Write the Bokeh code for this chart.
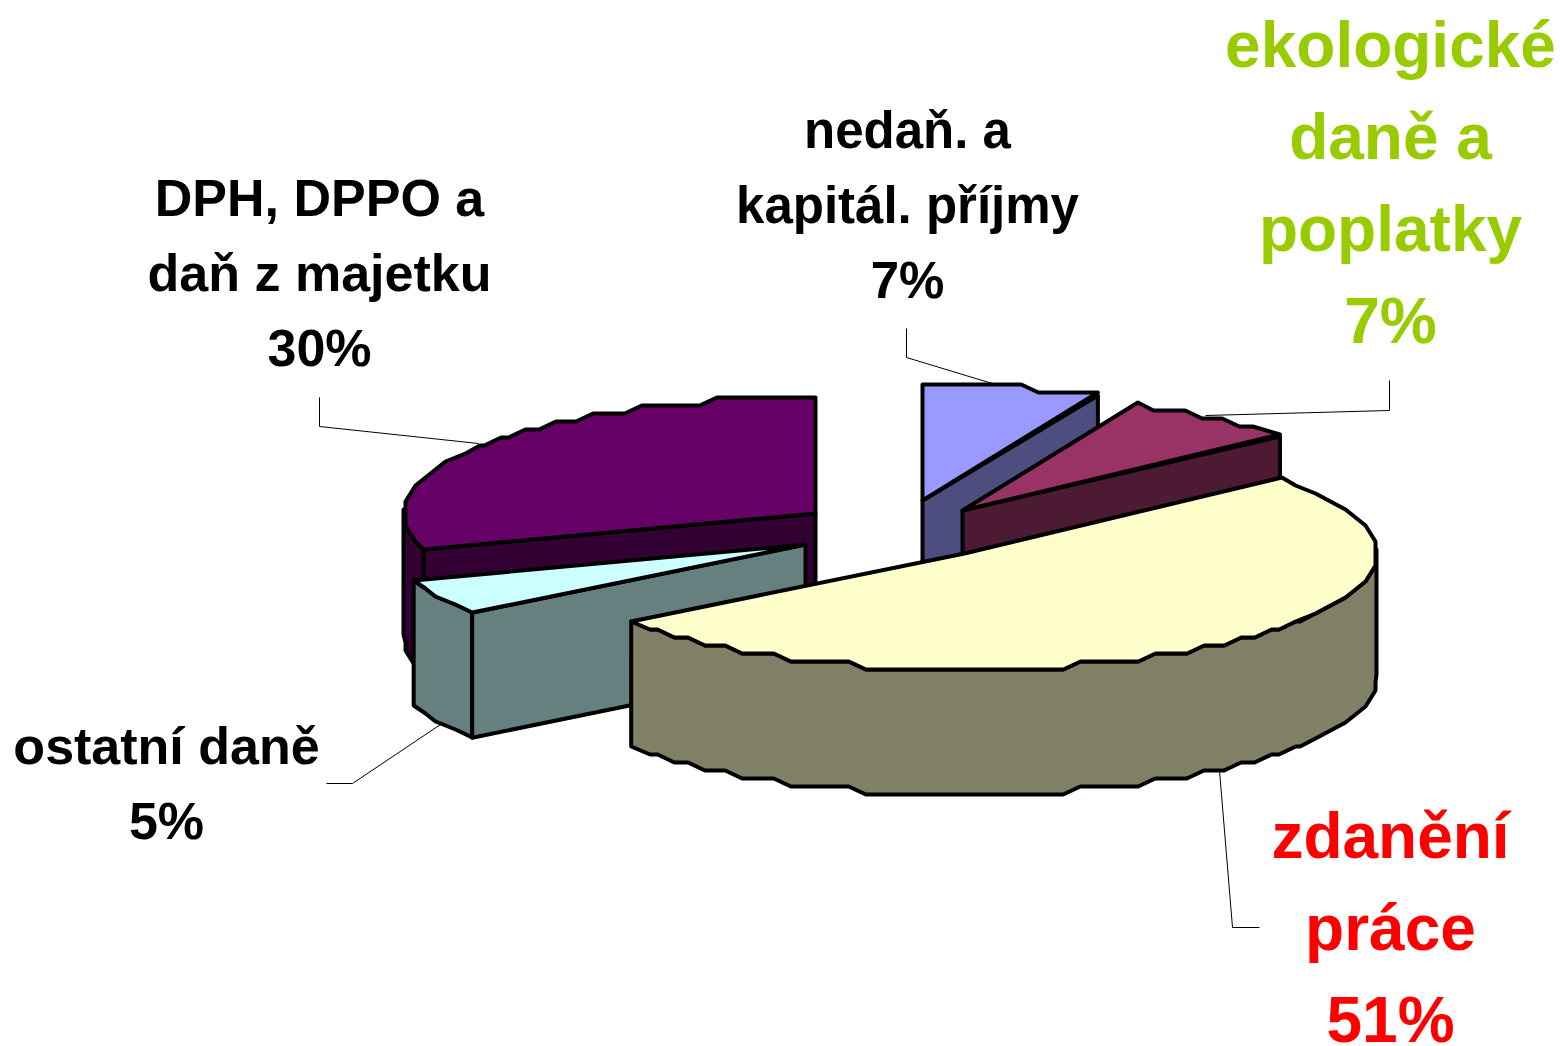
import math
from bokeh.plotting import figure
from bokeh.models import Range1d
from bokeh.core.properties import value
from bokeh.embed import file_html
from bokeh.resources import INLINE

# --- data ---
categories = ["zdanění práce", "ostatní daně", "DPH, DPPO a daň z majetku", "nedaň. a kapitál. příjmy", "ekologické daně a poplatky"]
values = [51, 5, 30, 7, 7]
percent_labels = ["51%", "5%", "30%", "7%", "7%"]
label_lines = [
    ["zdanění", "práce"],
    ["ostatní daně"],
    ["DPH, DPPO a", "daň z majetku"],
    ["nedaň. a", "kapitál. příjmy"],
    ["ekologické", "daně a", "poplatky"],
]
top_colors = ["#FFFFCC", "#CCFFFF", "#660066", "#9999FF", "#993366"]
side_colors = ["#808066", "#668080", "#330033", "#4D4D80", "#4D1A33"]
label_colors = ["#FF0000", "#000000", "#000000", "#000000", "#99CC00"]

# --- layout (pixel space of the page) ---
RX, RY, DEPTH = 412, 116, 125
START = -39.6
centers = [(964, 553), (805, 544), (815, 513), (922, 500), (962, 510)]
label_x = [1390, 166, 319, 907, 1390]
label_y0 = [835, 745, 197, 130, 44]
line_h = [92, 75, 75, 75, 92]
label_px = [64, 52, 52, 51, 64]
leaders = [
    [(1219, 770), (1232, 927), (1259, 927)],
    [(440, 724), (352, 783), (326, 783)],
    [(478, 443), (319, 426), (319, 397)],
    [(1005, 387), (906, 357), (906, 328)],
    [(1205, 415), (1389, 410), (1389, 380)],
]
draw_order = [2, 3, 4, 1, 0]
GRID = 8.0
INSET = 8.0


def arc(c, a0, a1):
    """Outline of the ellipse between two angles, stepped like a low-res render."""
    n = max(int(abs(a1 - a0) * 6), 2)
    pts = []
    for i in range(n + 1):
        t = math.radians(a0 + (a1 - a0) * i / n)
        pts.append((c[0] + RX * math.cos(t), c[1] + RY * math.sin(t)))
    base = c[1] - RY
    lvl = lambda y: round((y - base) / GRID)
    runs = []
    run = [pts[0]]
    level = lvl(pts[0][1])
    for q in pts[1:]:
        lv = lvl(q[1])
        if lv != level:
            runs.append((level, run))
            run = []
            level = lv
        run.append(q)
    runs.append((level, run))
    out = []
    last = len(runs) - 1
    for k, (lv, r) in enumerate(runs):
        x0, x1 = r[0][0], r[-1][0]
        y = base + lv * GRID
        long_run = abs(x1 - x0) >= 2.5 * INSET
        s = 1 if x1 >= x0 else -1
        if k == 0:
            out.append((x0, y))
        elif long_run:
            out.append((x0 + s * INSET, y))
        if k == last:
            out.append((x1, y))
        elif long_run:
            out.append((x1 - s * INSET, y))
        elif 0 < k:
            out.append((round((x0 + x1) / 2 / 5) * 5, y))
    return out


p = figure(width=1560, height=1046, output_backend="svg", toolbar_location=None,
           x_range=Range1d(0, 1560), y_range=Range1d(1046, 0),
           min_border=0, outline_line_color=None)
p.axis.visible = False
p.grid.visible = False
p.background_fill_color = "#FFFFFF"
p.border_fill_color = "#FFFFFF"

# leader lines underneath the pie
for pts in leaders:
    p.line([a for a, _ in pts], [b for _, b in pts], line_color="#000000", line_width=1)

# angular spans accumulated from the values
spans = []
a = START
for v in values:
    b = a + v * 3.6
    spans.append((a, b))
    a = b

EW = 4.0
for i in draw_order:
    c = centers[i]
    a0, a1 = spans[i]
    # outer rim: only the part of the arc that faces the viewer (0..180 deg)
    r0, r1 = max(a0, 0), min(a1, 180)
    if r1 > r0:
        top_arc = arc(c, r0, r1)
        rim = top_arc + [(x, y + DEPTH) for x, y in reversed(top_arc)]
        p.patch([x for x, _ in rim], [y for _, y in rim], fill_color=side_colors[i],
                line_color="#000000", line_width=EW, line_join="round")
    # flat cut face that looks forward
    fa = None
    if i in (1, 2):
        fa = a0
    elif i in (3, 4):
        fa = a1
    if fa is not None:
        t = math.radians(fa)
        ex, ey = c[0] + RX * math.cos(t), c[1] + RY * math.sin(t)
        xs = [c[0], ex, ex, c[0]]
        ys = [c[1], ey, ey + DEPTH, c[1] + DEPTH]
        p.patch(xs, ys, fill_color=side_colors[i], line_color="#000000",
                line_width=EW, line_join="round")
    # top surface
    pts = [c] + arc(c, a0, a1)
    p.patch([x for x, _ in pts], [y for _, y in pts], fill_color=top_colors[i],
            line_color="#000000", line_width=EW, line_join="round")

# labels
for i, lines in enumerate(label_lines):
    rows = lines + [percent_labels[i]]
    p.text([label_x[i]] * len(rows), [label_y0[i] + k * line_h[i] for k in range(len(rows))],
           text=rows, text_color=label_colors[i], text_align="center",
           text_baseline="alphabetic", text_font=value("Liberation Sans"),
           text_font_style="bold", text_font_size=f"{label_px[i]}px")

open("out.html", "w").write(file_html(p, INLINE))
